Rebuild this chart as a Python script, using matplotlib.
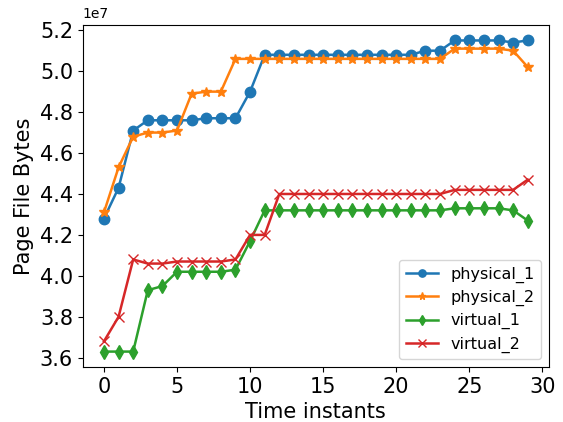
import numpy as np
import matplotlib
matplotlib.use("Agg")
import matplotlib.pyplot as plt

# values in units of 1e7
t = list(range(30))
physical_1 = [4.28, 4.43, 4.71, 4.76, 4.76, 4.76, 4.76, 4.77, 4.77, 4.77,
              4.90, 5.08, 5.08, 5.08, 5.08, 5.08, 5.08, 5.08, 5.08, 5.08,
              5.08, 5.08, 5.10, 5.10, 5.15, 5.15, 5.15, 5.15, 5.14, 5.15]
physical_2 = [4.31, 4.53, 4.68, 4.70, 4.70, 4.71, 4.89, 4.90, 4.90, 5.06,
              5.06, 5.06, 5.06, 5.06, 5.06, 5.06, 5.06, 5.06, 5.06, 5.06,
              5.06, 5.06, 5.06, 5.06, 5.11, 5.11, 5.11, 5.11, 5.10, 5.02]
virtual_1 = [3.63, 3.63, 3.63, 3.93, 3.95, 4.02, 4.02, 4.02, 4.02, 4.03,
             4.17, 4.32, 4.32, 4.32, 4.32, 4.32, 4.32, 4.32, 4.32, 4.32,
             4.32, 4.32, 4.32, 4.32, 4.33, 4.33, 4.33, 4.33, 4.32, 4.27]
virtual_2 = [3.68, 3.80, 4.08, 4.06, 4.06, 4.07, 4.07, 4.07, 4.07, 4.08,
             4.20, 4.20, 4.40, 4.40, 4.40, 4.40, 4.40, 4.40, 4.40, 4.40,
             4.40, 4.40, 4.40, 4.40, 4.42, 4.42, 4.42, 4.42, 4.42, 4.47]
y_ticks = [3.6, 3.8, 4.0, 4.2, 4.4, 4.6, 4.8, 5.0, 5.2]

series = [("physical_1", physical_1, "o"),
          ("physical_2", physical_2, "*"),
          ("virtual_1", virtual_1, "d"),
          ("virtual_2", virtual_2, "x")]

plt.rcParams["font.size"] = 15

fig, ax = plt.subplots(figsize=(5.63, 4.22), dpi=100)
for name, vals, mk in series:
    ax.plot(t, np.array(vals) * 1e7, marker=mk, markersize=7.5, linewidth=1.8, label=name)

ax.set_xlabel("Time instants")
ax.set_ylabel("Page File Bytes")
ax.set_xticks([0, 5, 10, 15, 20, 25, 30])
ax.set_yticks(np.array(y_ticks) * 1e7)
ax.set_yticklabels([f"{v:.1f}" for v in y_ticks])
ax.text(0.0, 1.01, "1e7", transform=ax.transAxes, fontsize=10, ha="left", va="bottom")
ax.legend(loc="lower right", fontsize=11.5, markerscale=0.7, labelspacing=0.45)
fig.subplots_adjust(left=0.147, right=0.975, top=0.941, bottom=0.13)
fig.savefig("out.png")
